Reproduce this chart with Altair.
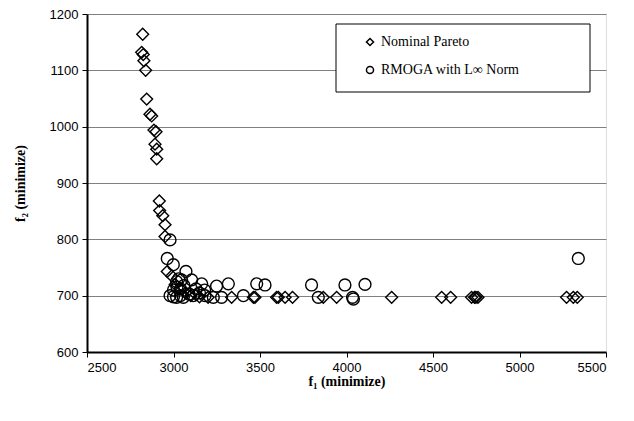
import altair as alt
import pandas as pd

# Nominal Pareto (diamonds)
np_f1 = [2822, 2816, 2825, 2829, 2839, 2845, 2864, 2874, 2887, 2899, 2893, 2903, 2903,
         2918, 2920, 2938, 2951, 2951, 2964, 2990, 3010, 3040, 3070, 3100, 3130, 3150,
         3200, 3336, 3462, 3471, 3596, 3606, 3645, 3688, 3866, 3943, 4261, 4550, 4602,
         4723, 4740, 4748, 4760, 5272, 5311, 5334]
np_f2 = [1164, 1132, 1128, 1117, 1100, 1049, 1022, 1019, 994, 991, 969, 960, 943,
         868, 851, 842, 826, 805, 743, 735, 720, 712, 705, 700, 702, 698,
         697, 697, 697, 697, 697, 697, 697, 697, 697, 697, 697, 697, 697,
         697, 697, 697, 697, 697, 697, 697]

# RMOGA with L-infinity norm (circles)
rm_f1 = [2980, 2964, 2999, 3072, 3018, 3030, 3047, 3020, 3040, 3060, 3105, 3163, 3249,
         3317, 3481, 3529, 3798, 3991, 4107, 5340,
         2980, 3000, 3018, 3040, 3057, 3090, 3114, 3150, 3182, 3230, 3278, 3404,
         3837, 4035, 4040, 3000, 3130, 3180]
rm_f2 = [799, 766, 755, 743, 725, 730, 728, 715, 712, 718, 728, 721, 717,
         721, 721, 719, 719, 719, 720, 766,
         700, 698, 697, 700, 697, 703, 700, 705, 700, 697, 697, 700,
         697, 697, 694, 710, 712, 710]

series_names = ["Nominal Pareto", "RMOGA with L\u221e Norm"]

df = pd.concat([
    pd.DataFrame({"f1": np_f1, "f2": np_f2, "series": series_names[0]}),
    pd.DataFrame({"f1": rm_f1, "f2": rm_f2, "series": series_names[1]}),
])

x_ticks = [2500, 3000, 3500, 4000, 4500, 5000, 5500]
y_ticks = [600, 700, 800, 900, 1000, 1100, 1200]

legend_box = alt.Chart(pd.DataFrame({"a": [0]})).mark_rect(
    fill="white", stroke="black", strokeWidth=1
).encode(
    x=alt.value(249), x2=alt.value(503), y=alt.value(10), y2=alt.value(78)
)

points = alt.Chart(df).mark_point(filled=False, strokeWidth=1.4, opacity=1, size=140).encode(
    x=alt.X("f1:Q", scale=alt.Scale(domain=[2500, 5500], nice=False),
            axis=alt.Axis(values=x_ticks, format="d", title="f\u2081 (minimize)", grid=False,
                          labelFont="Liberation Sans", labelFontSize=13, labelColor="black",
                          titleFont="Liberation Serif", titleFontSize=14, titleFontWeight="bold",
                          titleColor="black", titlePadding=0,
                          domainColor="black", domainWidth=2, tickColor="black",
                          tickSize=5, labelPadding=4)),
    y=alt.Y("f2:Q", scale=alt.Scale(domain=[600, 1200], nice=False),
            axis=alt.Axis(values=y_ticks, format="d", title="f\u2082 (minimize)", grid=True,
                          gridColor="#808080", gridWidth=1,
                          labelFont="Liberation Sans", labelFontSize=13, labelColor="black",
                          titleFont="Liberation Serif", titleFontSize=14, titleFontWeight="bold",
                          titleColor="black", titlePadding=22,
                          domainColor="black", domainWidth=2, tickColor="black",
                          tickSize=5, labelPadding=4)),
    shape=alt.Shape("series:N", scale=alt.Scale(domain=series_names, range=["diamond", "circle"]),
                    legend=alt.Legend(title=None, orient="none", legendX=276, legendY=21,
                                      labelFont="Liberation Serif", labelFontSize=14,
                                      labelColor="black", symbolSize=50,
                                      symbolStrokeColor="black", symbolStrokeWidth=1.5,
                                      symbolFillColor="transparent",
                                      rowPadding=14, labelOffset=4, padding=0)),
    color=alt.value("black"),
)

chart = alt.layer(legend_box, points).properties(
    width=519, height=338,
    autosize=alt.AutoSizeParams(type="none"),
    padding={"left": 79, "top": 6, "right": 20, "bottom": 61},
).configure_view(stroke="black", strokeWidth=1).configure(background="white")

chart.save("out.html", embed_options={"renderer": "svg", "actions": False})
